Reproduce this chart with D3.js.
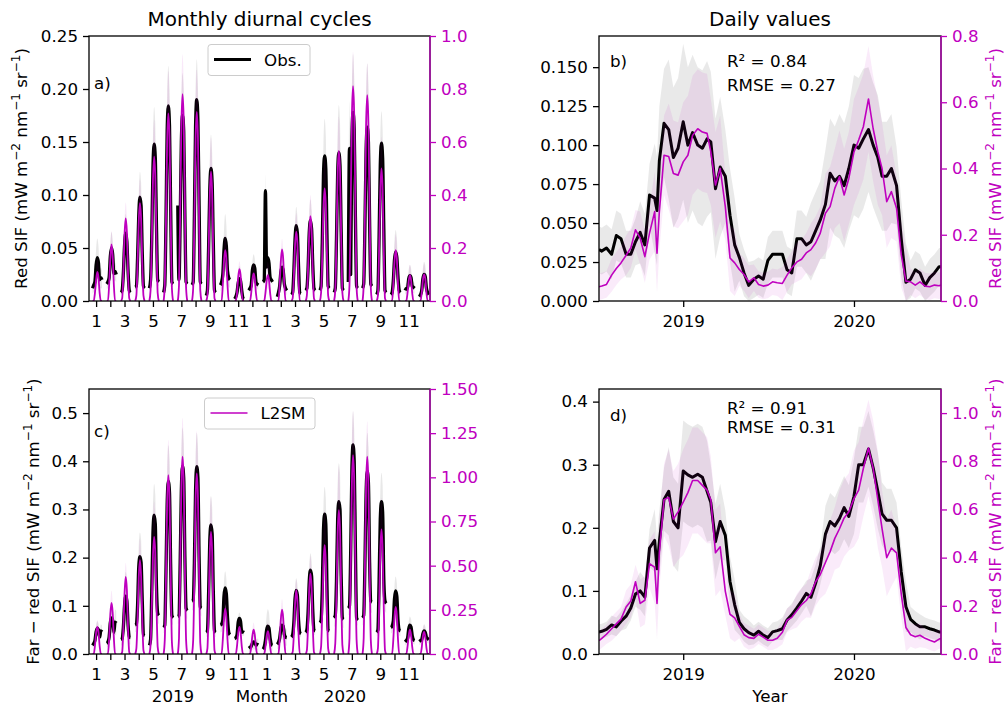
<!DOCTYPE html>
<html>
<head>
<meta charset="utf-8">
<script src="https://cdn.jsdelivr.net/npm/d3@7"></script>
<style>
  body { margin: 0; background: #fff; }
  text { font-family: "DejaVu Sans", sans-serif; }
</style>
</head>
<body>
<svg id="chart" width="1004" height="707"></svg>
<script>
// ---------------- data ----------------
// month labels of the diurnal panels (Jan 2019 .. Dec 2020)
var monthNumbers = [1,2,3,4,5,6,7,8,9,10,11,12,1,2,3,4,5,6,7,8,9,10,11,12];
// hours of day sampled in each monthly cycle
var diurnalHours = [6, 8, 10, 12, 14, 16, 18, 20, 22];

// red SIF, monthly diurnal cycles (obs on left axis, L2SM on right axis)
var redObsDiurnal = [
  [0.012,0.015,0.018,0.034,0.041,0.036,0.020,0.022,0.020],
  [0.016,0.018,0.022,0.042,0.050,0.044,0.026,0.028,0.025],
  [0.008,0.010,0.026,0.052,0.064,0.056,0.028,0.010,0.008],
  [0.013,0.014,0.040,0.080,0.098,0.090,0.045,0.014,0.012],
  [0.012,0.020,0.060,0.125,0.148,0.135,0.070,0.020,0.018],
  [0.008,0.015,0.075,0.160,0.184,0.165,0.085,0.018,0.016],
  [0.090,0.020,0.075,0.150,0.175,0.160,0.080,0.018,0.016],
  [0.015,0.018,0.080,0.165,0.190,0.170,0.090,0.018,0.016],
  [0.005,0.010,0.050,0.105,0.125,0.112,0.055,0.010,0.008],
  [0.015,0.018,0.025,0.048,0.059,0.052,0.028,0.022,0.020],
  [0.002,0.004,0.008,0.017,0.021,0.019,0.010,0.003,0.002],
  [0.010,0.012,0.015,0.029,0.034,0.031,0.018,0.016,0.015],
  [0.018,0.020,0.104,0.032,0.041,0.036,0.022,0.020,0.018],
  [0.004,0.008,0.014,0.027,0.032,0.029,0.016,0.012,0.010],
  [0.006,0.008,0.028,0.058,0.071,0.064,0.032,0.008,0.007],
  [0.010,0.012,0.030,0.064,0.076,0.068,0.034,0.012,0.010],
  [0.010,0.014,0.055,0.118,0.137,0.125,0.062,0.014,0.012],
  [0.008,0.012,0.058,0.120,0.140,0.128,0.065,0.012,0.010],
  [0.018,0.144,0.025,0.150,0.178,0.162,0.080,0.014,0.012],
  [0.012,0.016,0.068,0.140,0.164,0.150,0.075,0.016,0.014],
  [0.006,0.010,0.060,0.128,0.149,0.135,0.068,0.010,0.008],
  [0.006,0.008,0.019,0.039,0.046,0.041,0.022,0.010,0.008],
  [0.010,0.012,0.012,0.021,0.024,0.022,0.014,0.013,0.012],
  [0.004,0.006,0.010,0.021,0.025,0.023,0.012,0.008,0.006]
];
var redL2smDiurnal = [
  [0,0,0.03,0.08,0.110,0.090,0.03,0,0],
  [0,0,0.06,0.16,0.214,0.170,0.06,0,0],
  [0,0.01,0.10,0.25,0.312,0.260,0.10,0.01,0],
  [0,0.02,0.14,0.30,0.369,0.310,0.14,0.02,0],
  [0,0.04,0.22,0.45,0.545,0.470,0.23,0.03,0],
  [0,0.06,0.30,0.60,0.708,0.620,0.31,0.05,0],
  [0,0.06,0.33,0.66,0.781,0.680,0.34,0.05,0],
  [0,0.05,0.30,0.61,0.714,0.620,0.30,0.04,0],
  [0,0.02,0.18,0.40,0.488,0.410,0.17,0.01,0],
  [0,0,0.06,0.15,0.192,0.160,0.06,0,0],
  [0,0,0.03,0.09,0.120,0.100,0.03,0,0],
  [0,0,0.03,0.08,0.104,0.085,0.03,0,0],
  [0,0,0.03,0.075,0.098,0.080,0.03,0,0],
  [0,0,0.06,0.15,0.195,0.160,0.06,0,0],
  [0,0.01,0.09,0.21,0.262,0.220,0.08,0,0],
  [0,0.02,0.12,0.26,0.320,0.270,0.11,0.01,0],
  [0,0.03,0.17,0.35,0.425,0.360,0.17,0.02,0],
  [0,0.04,0.23,0.48,0.566,0.490,0.24,0.03,0],
  [0,0.06,0.34,0.69,0.811,0.700,0.35,0.05,0],
  [0,0.06,0.32,0.66,0.777,0.670,0.33,0.05,0],
  [0,0.02,0.19,0.41,0.500,0.420,0.18,0.01,0],
  [0,0,0.06,0.15,0.192,0.160,0.06,0,0],
  [0,0,0.03,0.075,0.098,0.080,0.03,0,0],
  [0,0,0.03,0.08,0.100,0.085,0.03,0,0]
];
// spread (std) at midday of each month
var redObsDiurnalSpread = [0.018,0.015,0.018,0.024,0.035,0.038,0.040,0.038,0.032,0.023,0.012,0.010,
                           0.015,0.014,0.018,0.020,0.035,0.045,0.055,0.060,0.030,0.021,0.010,0.012];
var redL2smDiurnalSpread = [0.05,0.05,0.06,0.09,0.14,0.16,0.15,0.16,0.13,0.06,0.03,0.04,
                            0.05,0.04,0.07,0.08,0.12,0.13,0.13,0.12,0.12,0.06,0.04,0.04];

// far - red SIF, monthly diurnal cycles
var farObsDiurnal = [
  [0.018,0.022,0.028,0.046,0.053,0.050,0.035,0.048,0.046],
  [0.022,0.025,0.035,0.065,0.075,0.070,0.045,0.066,0.064],
  [0.030,0.032,0.055,0.100,0.120,0.110,0.060,0.035,0.034],
  [0.060,0.062,0.100,0.180,0.202,0.190,0.110,0.040,0.038],
  [0.018,0.030,0.130,0.250,0.288,0.270,0.140,0.085,0.080],
  [0.055,0.060,0.170,0.310,0.358,0.335,0.180,0.080,0.075],
  [0.078,0.080,0.190,0.340,0.390,0.365,0.200,0.095,0.090],
  [0.110,0.112,0.190,0.340,0.389,0.365,0.200,0.098,0.095],
  [0.045,0.048,0.125,0.235,0.268,0.250,0.130,0.048,0.045],
  [0.060,0.062,0.070,0.120,0.137,0.125,0.075,0.045,0.040],
  [0.032,0.034,0.040,0.066,0.074,0.068,0.045,0.046,0.045],
  [0.012,0.014,0.016,0.022,0.025,0.024,0.018,0.020,0.019],
  [0.010,0.015,0.028,0.050,0.058,0.054,0.032,0.020,0.018],
  [0.020,0.024,0.032,0.052,0.060,0.058,0.040,0.035,0.034],
  [0.035,0.040,0.065,0.115,0.132,0.122,0.070,0.045,0.042],
  [0.045,0.050,0.085,0.150,0.174,0.162,0.090,0.050,0.048],
  [0.065,0.070,0.135,0.255,0.290,0.270,0.140,0.050,0.048],
  [0.075,0.080,0.150,0.280,0.316,0.300,0.160,0.075,0.072],
  [0.095,0.100,0.210,0.380,0.434,0.400,0.220,0.075,0.070],
  [0.075,0.080,0.180,0.330,0.379,0.355,0.190,0.110,0.108],
  [0.045,0.050,0.150,0.280,0.316,0.295,0.155,0.110,0.105],
  [0.055,0.058,0.068,0.115,0.131,0.120,0.070,0.050,0.048],
  [0.025,0.028,0.032,0.052,0.060,0.056,0.038,0.030,0.028],
  [0.026,0.028,0.030,0.042,0.048,0.045,0.035,0.032,0.030]
];
var farL2smDiurnal = [
  [0,0,0.045,0.12,0.153,0.125,0.045,0,0],
  [0,0,0.085,0.225,0.289,0.235,0.09,0,0],
  [0,0.01,0.14,0.34,0.436,0.36,0.14,0.01,0],
  [0,0.03,0.20,0.43,0.531,0.44,0.20,0.02,0],
  [0,0.05,0.27,0.55,0.663,0.57,0.28,0.04,0],
  [0,0.08,0.43,0.86,1.013,0.88,0.44,0.07,0],
  [0,0.09,0.47,0.95,1.117,0.97,0.48,0.08,0],
  [0,0.08,0.43,0.87,1.022,0.89,0.44,0.06,0],
  [0,0.03,0.25,0.57,0.691,0.58,0.24,0.02,0],
  [0,0,0.08,0.20,0.257,0.21,0.08,0,0],
  [0,0,0.045,0.12,0.153,0.125,0.045,0,0],
  [0,0,0.04,0.105,0.138,0.11,0.04,0,0],
  [0,0,0.04,0.10,0.130,0.105,0.04,0,0],
  [0,0,0.075,0.195,0.251,0.205,0.075,0,0],
  [0,0.01,0.11,0.28,0.361,0.30,0.11,0,0],
  [0,0.02,0.16,0.37,0.455,0.38,0.16,0.01,0],
  [0,0.04,0.24,0.51,0.616,0.52,0.24,0.03,0],
  [0,0.06,0.33,0.68,0.814,0.70,0.34,0.05,0],
  [0,0.09,0.48,0.96,1.126,0.98,0.49,0.08,0],
  [0,0.09,0.47,0.95,1.117,0.96,0.48,0.08,0],
  [0,0.03,0.26,0.58,0.705,0.59,0.25,0.02,0],
  [0,0,0.08,0.21,0.266,0.22,0.08,0,0],
  [0,0,0.04,0.105,0.138,0.11,0.04,0,0],
  [0,0,0.035,0.10,0.125,0.10,0.035,0,0]
];
var farObsDiurnalSpread = [0.015,0.030,0.050,0.050,0.065,0.075,0.080,0.070,0.060,0.035,0.012,0.015,
                           0.035,0.030,0.025,0.035,0.057,0.080,0.070,0.080,0.060,0.030,0.018,0.014];
var farL2smDiurnalSpread = [0.04,0.07,0.08,0.12,0.20,0.20,0.22,0.24,0.20,0.10,0.05,0.04,
                            0.05,0.06,0.06,0.10,0.20,0.25,0.25,0.20,0.18,0.08,0.04,0.04];

// daily values (smoothed), sampled dates
var dailyDates = [
  "2018-07-05","2018-07-11","2018-07-21",
  "2018-08-01","2018-08-11","2018-08-21",
  "2018-09-01","2018-09-11","2018-09-21",
  "2018-10-01","2018-10-11","2018-10-21",
  "2018-11-01","2018-11-06","2018-11-11","2018-11-21",
  "2018-12-01","2018-12-11","2018-12-21",
  "2019-01-01","2019-01-11","2019-01-21",
  "2019-02-01","2019-02-11","2019-02-21",
  "2019-03-01","2019-03-11","2019-03-21",
  "2019-04-01","2019-04-11","2019-04-21",
  "2019-05-01","2019-05-11","2019-05-21",
  "2019-06-01","2019-06-11","2019-06-21",
  "2019-07-01","2019-07-11","2019-07-21",
  "2019-08-01","2019-08-11","2019-08-21",
  "2019-09-01","2019-09-11","2019-09-21",
  "2019-10-01","2019-10-11","2019-10-21",
  "2019-11-01","2019-11-11","2019-11-21",
  "2019-12-01","2019-12-11","2019-12-21",
  "2020-01-01","2020-01-11","2020-01-21",
  "2020-02-01","2020-02-11","2020-02-21",
  "2020-03-01","2020-03-11","2020-03-21",
  "2020-04-01","2020-04-11","2020-04-21",
  "2020-05-01","2020-05-11","2020-05-21",
  "2020-06-01","2020-06-11","2020-06-21",
  "2020-07-01","2020-07-05"
];
var redObsDaily = [
  0.033,0.032,0.034, 0.030,0.042,0.040, 0.030,0.030,0.038, 0.044,0.036,0.068,
  0.066,0.058,0.090,0.114, 0.110,0.092,0.098,
  0.115,0.100,0.108, 0.100,0.098,0.104, 0.102,0.072,0.086, 0.080,0.055,0.036,
  0.028,0.018,0.010, 0.014,0.016,0.014, 0.026,0.030,0.030, 0.030,0.020,0.018,
  0.040,0.040,0.036, 0.038,0.045,0.052, 0.062,0.082,0.077, 0.080,0.074,0.085,
  0.100,0.098,0.104, 0.110,0.100,0.092, 0.080,0.080,0.085, 0.074,0.040,0.012,
  0.014,0.020,0.018, 0.010,0.015,0.018, 0.022,0.022
];
var redL2smDaily = [
  0.043,0.045,0.050, 0.078,0.098,0.115, 0.138,0.160,0.215, 0.190,0.134,0.205,
  0.270,0.144,0.270,0.440, 0.436,0.385,0.380,
  0.420,0.440,0.500, 0.520,0.510,0.506, 0.450,0.350,0.400, 0.285,0.130,0.115,
  0.095,0.080,0.058, 0.070,0.050,0.045, 0.048,0.058,0.055, 0.053,0.078,0.100,
  0.118,0.126,0.145, 0.155,0.175,0.205, 0.265,0.285,0.340, 0.375,0.320,0.370,
  0.450,0.486,0.526, 0.610,0.520,0.450, 0.400,0.300,0.330, 0.280,0.140,0.060,
  0.058,0.048,0.058, 0.045,0.043,0.048, 0.046,0.048
];
var farObsDaily = [
  0.035,0.036,0.039, 0.046,0.043,0.052, 0.060,0.073,0.095, 0.100,0.090,0.168,
  0.180,0.135,0.178,0.245, 0.258,0.210,0.200,
  0.290,0.284,0.280, 0.285,0.280,0.258, 0.240,0.178,0.210, 0.188,0.115,0.078,
  0.050,0.040,0.034, 0.030,0.036,0.030, 0.026,0.035,0.037, 0.040,0.054,0.062,
  0.073,0.084,0.096, 0.090,0.112,0.140, 0.190,0.210,0.203, 0.215,0.232,0.218,
  0.250,0.300,0.300, 0.325,0.295,0.258, 0.222,0.212,0.212, 0.200,0.130,0.075,
  0.055,0.048,0.043, 0.043,0.040,0.038, 0.035,0.035
];
var farL2smDaily = [
  0.055,0.065,0.082, 0.105,0.125,0.145, 0.195,0.220,0.300, 0.210,0.223,0.375,
  0.360,0.210,0.420,0.640, 0.650,0.560,0.590,
  0.630,0.670,0.720, 0.720,0.700,0.680, 0.640,0.420,0.445, 0.260,0.165,0.150,
  0.115,0.080,0.068, 0.065,0.082,0.070, 0.057,0.057,0.065, 0.090,0.140,0.152,
  0.180,0.205,0.222, 0.250,0.300,0.330, 0.380,0.425,0.480, 0.520,0.565,0.590,
  0.645,0.680,0.770, 0.855,0.770,0.640, 0.520,0.400,0.440, 0.420,0.250,0.110,
  0.080,0.072,0.078, 0.065,0.057,0.050, 0.062,0.064
];
// monthly spread of the daily values, Jul 2018 .. Jul 2020
var redObsDailySpread  = [0.015,0.016,0.015,0.020,0.035,0.045,0.050,0.050,0.045,0.030,0.015,0.012,0.015,
                          0.015,0.018,0.025,0.035,0.040,0.045,0.040,0.035,0.025,0.012,0.012,0.012];
var redL2smDailySpread = [0.04,0.05,0.06,0.08,0.12,0.16,0.18,0.18,0.16,0.10,0.05,0.04,0.04,
                          0.05,0.06,0.08,0.12,0.14,0.16,0.16,0.14,0.10,0.04,0.04,0.04];
var farObsDailySpread  = [0.012,0.015,0.020,0.030,0.050,0.070,0.080,0.080,0.060,0.040,0.020,0.015,0.015,
                          0.018,0.020,0.030,0.045,0.050,0.060,0.060,0.050,0.040,0.020,0.015,0.015];
var farL2smDailySpread = [0.04,0.05,0.07,0.10,0.15,0.20,0.22,0.22,0.18,0.10,0.05,0.04,0.04,
                          0.05,0.07,0.10,0.13,0.16,0.20,0.20,0.16,0.10,0.05,0.04,0.04];

var dailyRange = ["2018-07-05", "2020-07-05"];
var yearTicks = ["2019-01-01", "2020-01-01"];

// axis ticks
var redLeftTicks = [0, 0.05, 0.10, 0.15, 0.20, 0.25];
var redRightTicks = [0, 0.2, 0.4, 0.6, 0.8, 1.0];
var farLeftTicks = [0, 0.1, 0.2, 0.3, 0.4, 0.5];
var farRightTicks = [0, 0.25, 0.5, 0.75, 1.0, 1.25, 1.5];
var redDailyLeftTicks = [0, 0.025, 0.05, 0.075, 0.10, 0.125, 0.15];
var redDailyRightTicks = [0, 0.2, 0.4, 0.6, 0.8];
var farDailyLeftTicks = [0, 0.1, 0.2, 0.3, 0.4];
var farDailyRightTicks = [0, 0.2, 0.4, 0.6, 0.8, 1.0];

// ---------------- drawing ----------------
var MAGENTA = "#bf00bf";
var FONT = 16.7;
var svg = d3.select("#chart");
var parseDay = d3.timeParse("%Y-%m-%d");

//appends "<prefix> (mW m-2 nm-1 sr-1)" with superscripts
function sifLabel(sel, prefix) {
    var t = sel.append("text").attr("text-anchor", "middle").attr("font-size", FONT);
    var parts = [[prefix + " (mW m", 0], ["\u22122", 1], [" nm", 0], ["\u22121", 1], [" sr", 0], ["\u22121", 1], [")", 0]];
    var up = false;
    parts.forEach(function(p) {
        var ts = t.append("tspan").text(p[0]);
        if (p[1] && !up) { ts.attr("dy", -7).attr("font-size", 12); up = true; }
        else if (p[1]) { ts.attr("font-size", 12); }
        else if (up) { ts.attr("dy", 7); up = false; }
    });
    return t;
}

function styleAxis(g, color) {
    g.attr("font-size", FONT).attr("font-family", "DejaVu Sans").attr("color", color);
    g.select(".domain").remove();
    g.selectAll(".tick line").attr("stroke-width", 1.3);
}

function frame(g, box) {
    g.append("rect").attr("x", box.x0).attr("y", box.y0)
        .attr("width", box.x1 - box.x0).attr("height", box.y1 - box.y0)
        .attr("fill", "none").attr("stroke", "black").attr("stroke-width", 1.3);
    g.append("line").attr("x1", box.x1).attr("x2", box.x1).attr("y1", box.y0).attr("y2", box.y1)
        .attr("stroke", MAGENTA).attr("stroke-width", 1.3);
}

function yAxes(g, box, yL, yR, o) {
    var left = g.append("g").attr("transform", "translate(" + box.x0 + ",0)")
        .call(d3.axisLeft(yL).tickValues(o.leftTicks).tickSize(6).tickPadding(5).tickFormat(d3.format(o.leftFmt)));
    styleAxis(left, "black");
    var right = g.append("g").attr("transform", "translate(" + box.x1 + ",0)")
        .call(d3.axisRight(yR).tickValues(o.rightTicks).tickSize(6).tickPadding(5).tickFormat(d3.format(o.rightFmt)));
    styleAxis(right, MAGENTA);
}

function drawDiurnal(box, o) {
    var g = svg.append("g");
    var x = d3.scaleLinear().domain([-0.5, 23.5]).range([box.x0, box.x1]);
    var yL = d3.scaleLinear().domain(o.leftDomain).range([box.y1, box.y0]);
    var yR = d3.scaleLinear().domain(o.rightDomain).range([box.y1, box.y0]);

    g.append("clipPath").attr("id", "clip" + o.letter).append("rect")
        .attr("x", box.x0).attr("y", box.y0).attr("width", box.x1 - box.x0).attr("height", box.y1 - box.y0);
    var plot = g.append("g").attr("clip-path", "url(#clip" + o.letter + ")");

    function cycle(vals, m, spread) {
        var peak = d3.max(vals);
        return vals.map(function(v, k) {
            return {x: m + (diurnalHours[k] - 12) / 24, v: v, s: spread * v / peak};
        });
    }
    function layer(series, spreads, y, color, width, opacity) {
        var area = d3.area().x(function(d) { return x(d.x); })
            .y0(function(d) { return y(Math.max(0, d.v - d.s)); })
            .y1(function(d) { return y(d.v + d.s); })
            .curve(d3.curveMonotoneX);
        var line = d3.line().x(function(d) { return x(d.x); }).y(function(d) { return y(d.v); })
            .curve(d3.curveMonotoneX);
        var cycles = series.map(function(vals, m) { return cycle(vals, m, spreads[m]); });
        plot.append("g").selectAll("path").data(cycles).enter().append("path")
            .attr("d", area).attr("fill", color).attr("fill-opacity", opacity);
        plot.append("g").selectAll("path").data(cycles).enter().append("path")
            .attr("d", line).attr("fill", "none").attr("stroke", color).attr("stroke-width", width)
            .attr("stroke-linejoin", "round");
    }
    layer(o.obs, o.obsSpread, yL, "black", 3.3, 0.09);
    layer(o.l2sm, o.l2smSpread, yR, MAGENTA, 1.8, 0.09);

    frame(g, box);
    yAxes(g, box, yL, yR, o);
    var xa = g.append("g").attr("transform", "translate(0," + box.y1 + ")")
        .call(d3.axisBottom(x).tickValues(d3.range(monthNumbers.length)).tickSize(6)
            .tickFormat(function(i) { return i % 2 === 0 ? monthNumbers[i] : ""; }));
    styleAxis(xa, "black");
    xa.selectAll("text").attr("y", 26).attr("dy", null);

    g.append("text").attr("x", box.x0 + 5).attr("y", o.letterY).attr("font-size", FONT).text(o.letter + ")");
    sifLabel(g, o.label).attr("transform", "translate(" + o.labelX + "," + (box.y0 + box.y1) / 2 + ") rotate(-90)");
}

function drawDaily(box, o) {
    var g = svg.append("g");
    var x = d3.scaleTime().domain(dailyRange.map(parseDay)).range([box.x0, box.x1]);
    var yL = d3.scaleLinear().domain(o.leftDomain).range([box.y1, box.y0]);
    var yR = d3.scaleLinear().domain(o.rightDomain).range([box.y1, box.y0]);

    g.append("clipPath").attr("id", "clip" + o.letter).append("rect")
        .attr("x", box.x0).attr("y", box.y0).attr("width", box.x1 - box.x0).attr("height", box.y1 - box.y0);
    var plot = g.append("g").attr("clip-path", "url(#clip" + o.letter + ")");

    var rows = dailyDates.map(function(s, i) {
        var d = parseDay(s);
        var mi = (d.getFullYear() - 2018) * 12 + d.getMonth() - 6;
        return {date: d, obs: o.obs[i], l2sm: o.l2sm[i], obsS: o.obsSpread[mi], l2smS: o.l2smSpread[mi]};
    });

    function layer(key, skey, y, color, width, opacity) {
        plot.append("path").datum(rows)
            .attr("d", d3.area().x(function(d) { return x(d.date); })
                .y0(function(d) { return y(Math.max(0, d[key] - d[skey])); })
                .y1(function(d) { return y(d[key] + d[skey]); }))
            .attr("fill", color).attr("fill-opacity", opacity);
        plot.append("path").datum(rows)
            .attr("d", d3.line().x(function(d) { return x(d.date); }).y(function(d) { return y(d[key]); }))
            .attr("fill", "none").attr("stroke", color).attr("stroke-width", width).attr("stroke-linejoin", "round");
    }
    layer("obs", "obsS", yL, "black", 3, 0.085);
    layer("l2sm", "l2smS", yR, MAGENTA, 1.6, 0.08);

    frame(g, box);
    yAxes(g, box, yL, yR, o);
    var xa = g.append("g").attr("transform", "translate(0," + box.y1 + ")")
        .call(d3.axisBottom(x).tickValues(yearTicks.map(parseDay)).tickSize(6).tickFormat(d3.timeFormat("%Y")));
    styleAxis(xa, "black");
    xa.selectAll("text").attr("y", 26).attr("dy", null);

    g.append("text").attr("x", box.x0 + 11).attr("y", o.letterY).attr("font-size", FONT).text(o.letter + ")");
    g.append("text").attr("x", 727).attr("y", o.statsY[0]).attr("font-size", FONT).text(o.stats[0]);
    g.append("text").attr("x", 727).attr("y", o.statsY[1]).attr("font-size", FONT).text(o.stats[1]);
    sifLabel(g, o.label).attr("fill", MAGENTA)
        .attr("transform", "translate(1001," + (box.y0 + box.y1) / 2 + ") rotate(-90)");
}

function legend(x0, y0, w, label, color, width) {
    var g = svg.append("g");
    g.append("rect").attr("x", x0).attr("y", y0).attr("width", w).attr("height", 31).attr("rx", 3)
        .attr("fill", "white").attr("fill-opacity", 0.85).attr("stroke", "#cccccc").attr("stroke-width", 1);
    g.append("line").attr("x1", x0 + 6).attr("x2", x0 + 43).attr("y1", y0 + 15).attr("y2", y0 + 15)
        .attr("stroke", color).attr("stroke-width", width);
    g.append("text").attr("x", x0 + 56).attr("y", y0 + 21).attr("font-size", FONT).text(label);
}

var boxA = {x0: 89, x1: 430, y0: 36, y1: 301};
var boxB = {x0: 599, x1: 941, y0: 36, y1: 301};
var boxC = {x0: 89, x1: 430, y0: 389, y1: 654};
var boxD = {x0: 599, x1: 941, y0: 389, y1: 654};

drawDiurnal(boxA, {
    letter: "a", letterY: 89, label: "Red SIF", labelX: 27,
    obs: redObsDiurnal, l2sm: redL2smDiurnal, obsSpread: redObsDiurnalSpread, l2smSpread: redL2smDiurnalSpread,
    leftDomain: [0, 0.25], leftTicks: redLeftTicks, leftFmt: ".2f",
    rightDomain: [0, 1.0], rightTicks: redRightTicks, rightFmt: ".1f"
});
drawDiurnal(boxC, {
    letter: "c", letterY: 437, label: "Far \u2212 red SIF", labelX: 39,
    obs: farObsDiurnal, l2sm: farL2smDiurnal, obsSpread: farObsDiurnalSpread, l2smSpread: farL2smDiurnalSpread,
    leftDomain: [0, 0.55], leftTicks: farLeftTicks, leftFmt: ".1f",
    rightDomain: [0, 1.5], rightTicks: farRightTicks, rightFmt: ".2f"
});
drawDaily(boxB, {
    letter: "b", letterY: 67, label: "Red SIF",
    stats: ["R\u00b2 = 0.84", "RMSE = 0.27"], statsY: [67, 91],
    obs: redObsDaily, l2sm: redL2smDaily, obsSpread: redObsDailySpread, l2smSpread: redL2smDailySpread,
    leftDomain: [0, 0.17], leftTicks: redDailyLeftTicks, leftFmt: ".3f",
    rightDomain: [0, 0.8], rightTicks: redDailyRightTicks, rightFmt: ".1f"
});
drawDaily(boxD, {
    letter: "d", letterY: 421, label: "Far \u2212 red SIF",
    stats: ["R\u00b2 = 0.91", "RMSE = 0.31"], statsY: [414, 433],
    obs: farObsDaily, l2sm: farL2smDaily, obsSpread: farObsDailySpread, l2smSpread: farL2smDailySpread,
    leftDomain: [0, 0.42], leftTicks: farDailyLeftTicks, leftFmt: ".1f",
    rightDomain: [0, 1.1], rightTicks: farDailyRightTicks, rightFmt: ".1f"
});

legend(208, 44.5, 102, "Obs.", "black", 3);
legend(204.5, 398, 110.5, "L2SM", MAGENTA, 1.6);

// titles and bottom labels
svg.append("text").attr("x", 259.5).attr("y", 25.5).attr("text-anchor", "middle").attr("font-size", 20).text("Monthly diurnal cycles");
svg.append("text").attr("x", 770).attr("y", 25.5).attr("text-anchor", "middle").attr("font-size", 20).text("Daily values");
svg.append("text").attr("x", 173).attr("y", 702).attr("text-anchor", "middle").attr("font-size", FONT).text("2019");
svg.append("text").attr("x", 262).attr("y", 702).attr("text-anchor", "middle").attr("font-size", FONT).text("Month");
svg.append("text").attr("x", 345).attr("y", 702).attr("text-anchor", "middle").attr("font-size", FONT).text("2020");
svg.append("text").attr("x", 770).attr("y", 702).attr("text-anchor", "middle").attr("font-size", FONT).text("Year");
</script>
</body>
</html>
